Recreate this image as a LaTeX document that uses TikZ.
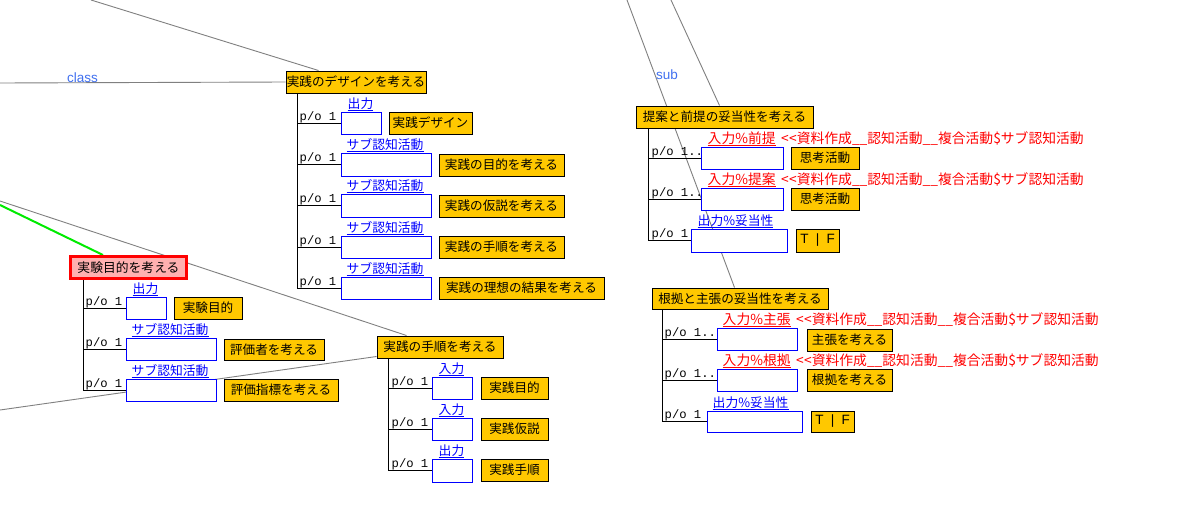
\documentclass[tikz,border=0pt]{standalone}
\usepackage{fontspec}
\setmainfont{Noto Sans CJK JP}
\newfontfamily\monof{Liberation Mono}
\newfontfamily\latf{Liberation Sans}
\usetikzlibrary{backgrounds}
\definecolor{gold}{RGB}{255,200,0}
\definecolor{pinkfill}{RGB}{255,176,176}
\definecolor{linkblue}{RGB}{0,0,255}
\definecolor{lblblue}{RGB}{64,112,240}
\definecolor{edgegray}{RGB}{128,128,128}
\definecolor{brightgreen}{RGB}{0,235,0}
\newcommand\bx[6][]{\node[#1,minimum width={\the\dimexpr #4pt-#2pt\relax},minimum height={\the\dimexpr #5pt-#3pt\relax}] (#6) at ({(#2+#4)/2},{(#3+#5)/2})}
\newcommand\ul[1]{\setbox0=\hbox{#1}\rlap{\rule[-2.6pt]{\wd0}{1pt}}\box0}
\newcommand\rtail{\ \,<{}\kern0.5pt<{}資料作成\_\_認知活動\_\_複合活動\$サブ認知活動}
\begin{document}
\begin{tikzpicture}[x=1pt,y=-1pt,
  gbox/.style={draw=black,fill=gold,line width=1pt,inner sep=0pt,font=\fontsize{12.6}{14}\selectfont},
  tfbox/.style={gbox,font=\latf\fontsize{13.5}{15}\selectfont},
  bbox/.style={draw=linkblue,fill=white,line width=1pt,inner sep=0pt},
  rbox/.style={draw=red,fill=pinkfill,line width=3pt,inner sep=0pt,font=\fontsize{12.8}{14}\selectfont},
  po/.style={anchor=south west,inner sep=0pt,font=\monof\fontsize{12.2}{14}\selectfont},
  blbl/.style={anchor=south west,inner sep=0pt,text=linkblue,font=\fontsize{12.8}{14}\selectfont},
  rlbl/.style={anchor=south west,inner sep=0pt,text=red,font=\fontsize{13.8}{15}\selectfont},
  tag/.style={anchor=base west,inner sep=0pt,text=lblblue,font=\latf\fontsize{13.5}{15}\selectfont},
  grayline/.style={draw=edgegray,line width=0.9pt},
  greenline/.style={draw=brightgreen,line width=2pt},
  tree/.style={draw=black,line width=1pt}]
\useasboundingbox (0,0) rectangle (1193,525);

% ---- design group
\bx[gbox]{286}{71}{426}{93}{D} {実践のデザインを考える};
\bx[bbox]{341}{112}{381}{134}{D1b} {};
\bx[gbox]{389}{112}{472}{134}{D1g} {実践デザイン};
\bx[bbox]{341}{153}{431}{176}{D2b} {};
\bx[gbox]{439}{154}{564}{176}{D2g} {実践の目的を考える};
\bx[bbox]{341}{194}{431}{217}{D3b} {};
\bx[gbox]{439}{195}{564}{217}{D3g} {実践の仮説を考える};
\bx[bbox]{341}{236}{431}{258}{D4b} {};
\bx[gbox]{439}{236}{564}{258}{D4g} {実践の手順を考える};
\bx[bbox]{341}{277}{431}{299}{D5b} {};
\bx[gbox]{439}{277}{604}{299}{D5g} {実践の理想の結果を考える};
\node[blbl] (D1l) at ([xshift=7pt]D1b.north west) {\ul{出力}};
\foreach \i in {2,...,5}{\node[blbl] (D\i l) at ([xshift=6pt]D\i b.north west) {\ul{サブ認知活動}};}
\foreach \i in {1,...,5}{\node[po] (D\i p) at ([xshift=-41pt]D\i b.west) {p/o 1};}

% ---- experiment group
\bx[rbox]{70.5}{256.5}{186.5}{278.5}{E} {実験目的を考える};
\bx[bbox]{126}{297}{166}{319}{E1b} {};
\bx[gbox]{174}{297}{242}{319}{E1g} {実験目的};
\bx[bbox]{126}{338}{216}{360}{E2b} {};
\bx[gbox]{224}{339}{324}{360}{E2g} {評価者を考える};
\bx[bbox]{126}{379}{216}{401}{E3b} {};
\bx[gbox]{224}{379}{338}{401}{E3g} {評価指標を考える};
\node[blbl] (E1l) at ([xshift=7pt]E1b.north west) {\ul{出力}};
\node[blbl] (E2l) at ([xshift=6pt]E2b.north west) {\ul{サブ認知活動}};
\node[blbl] (E3l) at ([xshift=6pt]E3b.north west) {\ul{サブ認知活動}};
\foreach \i in {1,2,3}{\node[po] (E\i p) at ([xshift=-40pt]E\i b.west) {p/o 1};}

% ---- procedure group
\bx[gbox]{377}{336}{503}{358}{P} {実践の手順を考える};
\bx[bbox]{432}{377}{472}{399}{P1b} {};
\bx[gbox]{481}{377}{548}{399}{P1g} {実践目的};
\bx[bbox]{432}{418}{472}{440}{P2b} {};
\bx[gbox]{481}{418}{548}{440}{P2g} {実践仮説};
\bx[bbox]{432}{459}{472}{482}{P3b} {};
\bx[gbox]{481}{459}{548}{481}{P3g} {実践手順};
\node[blbl] (P1l) at ([xshift=7pt]P1b.north west) {\ul{入力}};
\node[blbl] (P2l) at ([xshift=7pt]P2b.north west) {\ul{入力}};
\node[blbl] (P3l) at ([xshift=7pt]P3b.north west) {\ul{出力}};
\foreach \i in {1,2,3}{\node[po] (P\i p) at ([xshift=-40pt]P\i b.west) {p/o 1};}

% ---- proposal group
\bx[gbox]{636}{106}{813}{128}{Q} {提案と前提の妥当性を考える};
\bx[bbox]{701}{147}{783}{169}{Q1b} {};
\bx[bbox]{701}{188}{783}{210}{Q2b} {};
\bx[bbox]{691}{229}{787}{252}{Q3b} {};
\node[rlbl] (Q1l) at ([xshift=7pt]Q1b.north west) {\ul{入力\%前提}\rtail};
\node[rlbl] (Q2l) at ([xshift=7pt]Q2b.north west) {\ul{入力\%提案}\rtail};
\node[blbl] (Q3l) at ([xshift=7pt]Q3b.north west) {\ul{出力\%妥当性}};
\bx[gbox]{791}{147}{859}{169}{Q1g} {思考活動};
\bx[gbox]{791}{188}{859}{210}{Q2g} {思考活動};
\bx[tfbox]{796}{229}{839}{252}{Q3g} {T\hspace{3.5pt} |\hspace{3.5pt} F};
\node[po] (Q1p) at ([xshift=-49pt]Q1b.west) {p/o 1..};
\node[po] (Q2p) at ([xshift=-49pt]Q2b.west) {p/o 1..};
\node[po] (Q3p) at ([xshift=-39pt]Q3b.west) {p/o 1};

% ---- ground group
\bx[gbox]{652}{288}{828}{309}{R} {根拠と主張の妥当性を考える};
\bx[bbox]{717}{328}{797}{350}{R1b} {};
\bx[bbox]{717}{369}{797}{391}{R2b} {};
\bx[bbox]{707}{411}{802}{432}{R3b} {};
\node[rlbl] (R1l) at ([xshift=6pt]R1b.north west) {\ul{入力\%主張}\rtail};
\node[rlbl] (R2l) at ([xshift=6pt]R2b.north west) {\ul{入力\%根拠}\rtail};
\node[blbl] (R3l) at ([xshift=6pt]R3b.north west) {\ul{出力\%妥当性}};
\bx[gbox]{807}{329}{892}{351}{R1g} {主張を考える};
\bx[gbox]{807}{369}{892}{391}{R2g} {根拠を考える};
\bx[tfbox]{811}{411}{854}{432}{R3g} {T\hspace{3.5pt} |\hspace{3.5pt} F};
\node[po] (R1p) at ([xshift=-52pt]R1b.west) {p/o 1..};
\node[po] (R2p) at ([xshift=-52pt]R2b.west) {p/o 1..};
\node[po] (R3p) at ([xshift=-42pt]R3b.west) {p/o 1};

% ---- edge labels
\node[tag] (cls) at (67,82) {class};
\node[tag] (sub) at (656,79) {sub};

% ---- connectors
\begin{pgfonlayer}{background}
\fill[white] (0,0) rectangle (1193,525);
\coordinate (s1) at (91,0);
\coordinate (s2) at (0,83);
\coordinate (s3) at (0,201);
\coordinate (s4) at (0,410);
\coordinate (s5) at (0,205);
\coordinate (s6) at (627,0);
\coordinate (s7) at (671,0);
\draw[grayline] (s1) -- ([xshift=33pt]D.north west);
\draw[grayline] (s2) -- (D.west);
\draw[grayline] (s3) -- ([xshift=30pt]P.north west);
\draw[grayline] (s4) -- ([yshift=2pt]P.south west);
\draw[greenline] (s5) -- ([xshift=34pt]E.north west);
\draw[grayline] (s6) -- ([xshift=83pt]R.north west);
\draw[grayline] (s7) -- ([xshift=84pt]Q.north west);
\foreach \i in {1,...,5}{\draw[tree] ([xshift=12pt]D.south west) |- (D\i b.west);}
\foreach \i in {1,2,3}{\draw[tree] ([xshift=14pt]E.south west) |- (E\i b.west);}
\foreach \i in {1,2,3}{\draw[tree] ([xshift=12pt]P.south west) |- (P\i b.west);}
\foreach \i in {1,2,3}{\draw[tree] ([xshift=13pt]Q.south west) |- (Q\i b.west);}
\foreach \i in {1,2,3}{\draw[tree] ([xshift=11pt]R.south west) |- (R\i b.west);}
\end{pgfonlayer}
\end{tikzpicture}
\end{document}
